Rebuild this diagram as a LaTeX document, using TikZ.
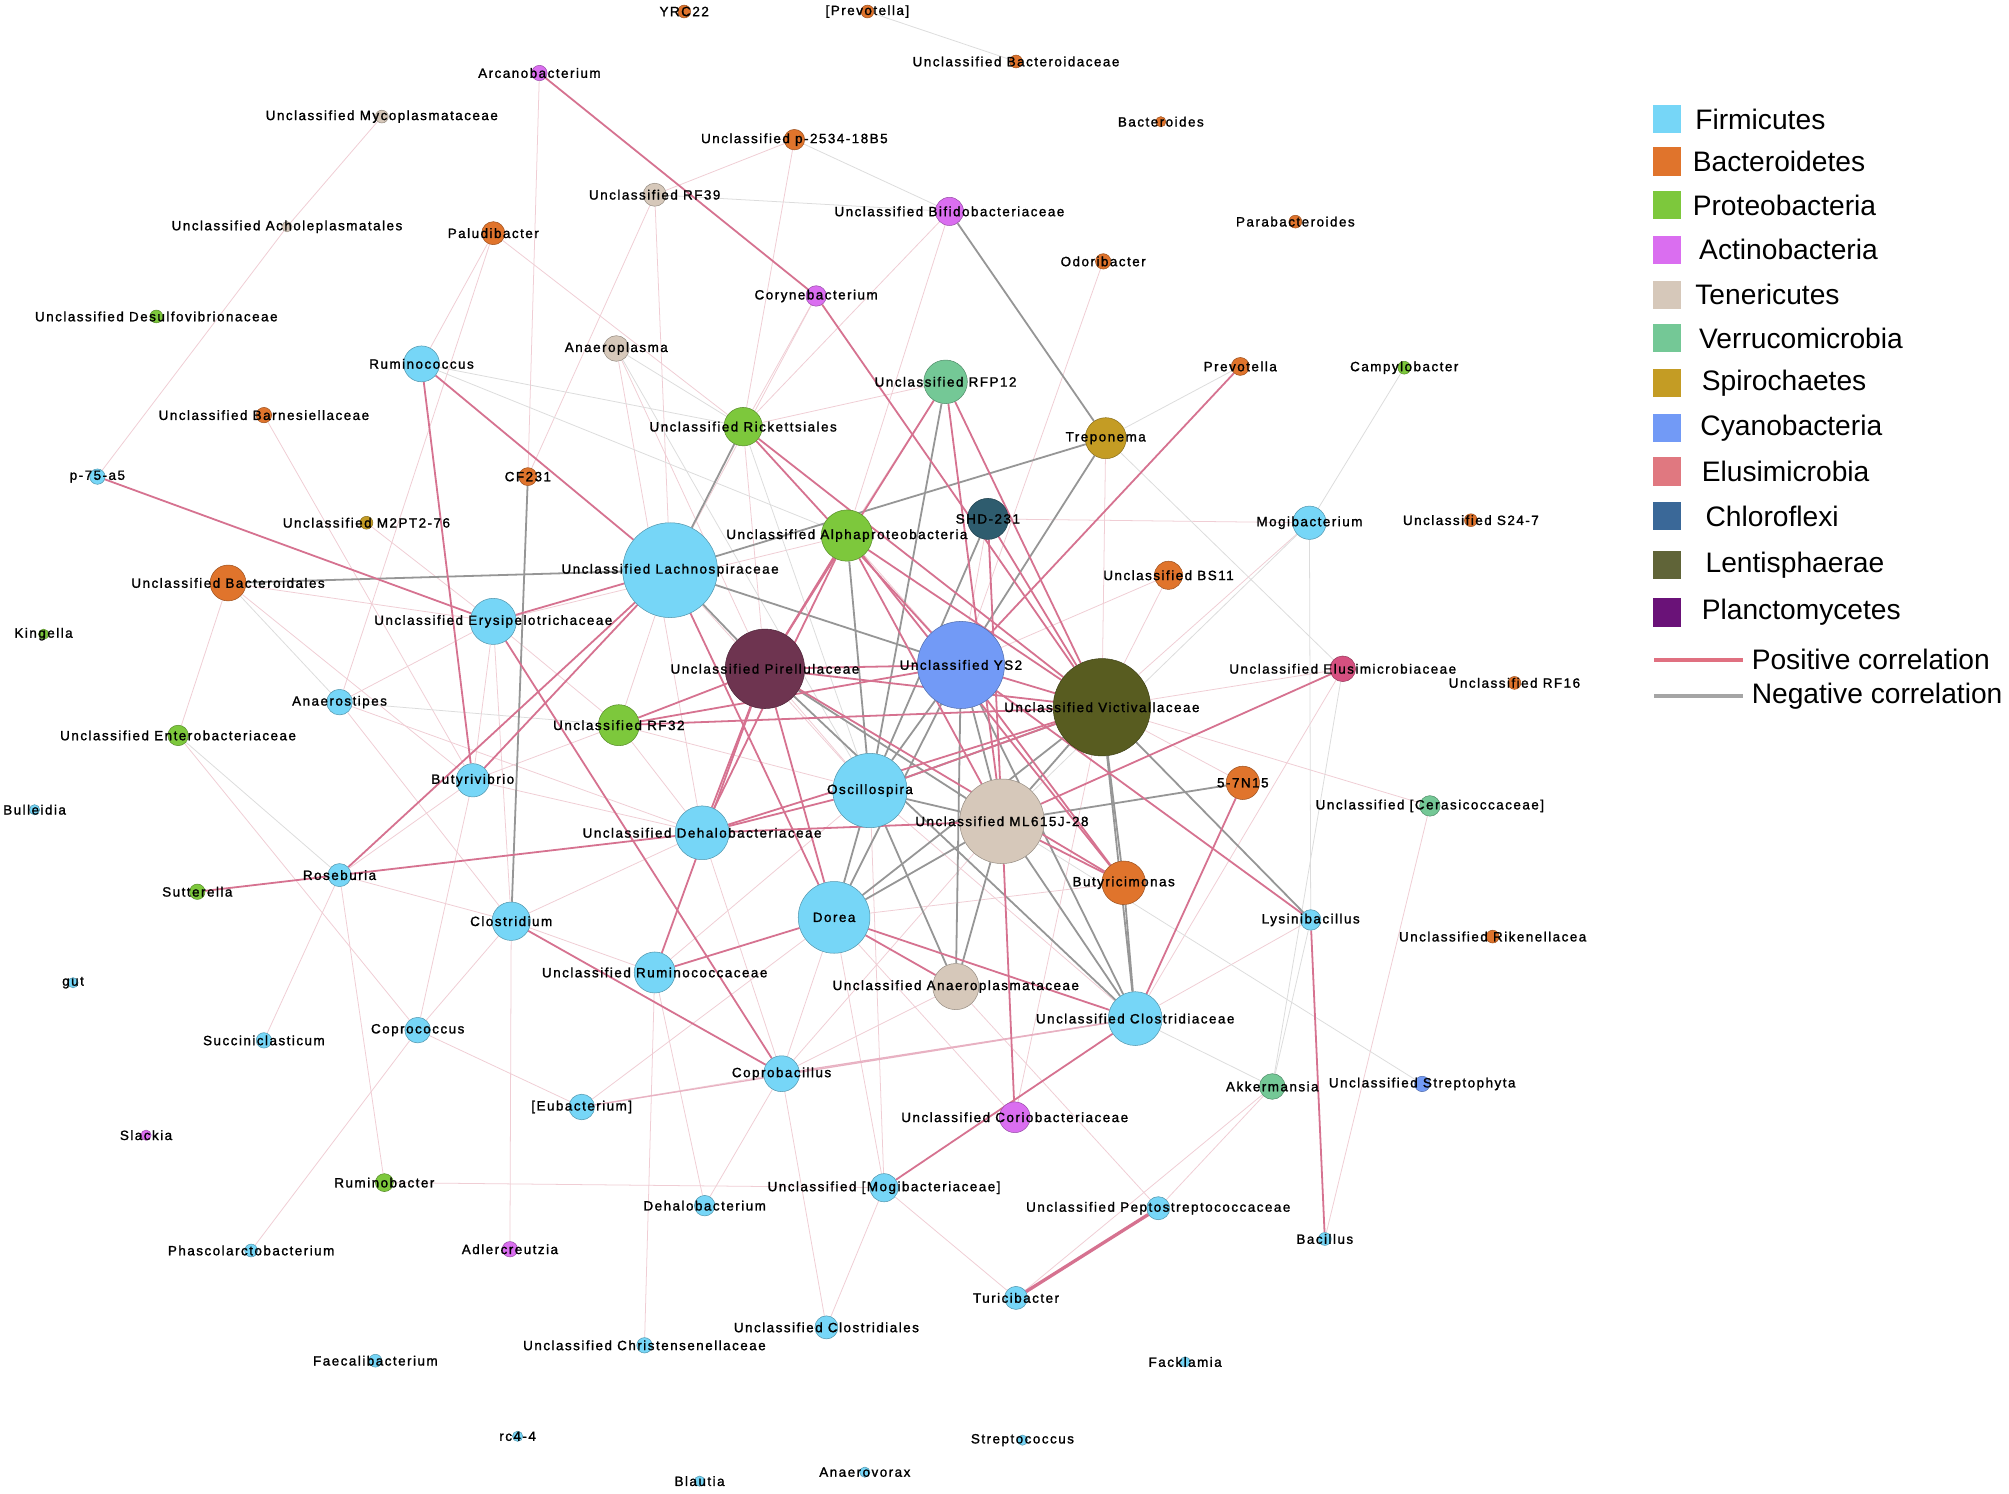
\documentclass[tikz,border=0pt]{standalone}
\usepackage{fontspec}
\setmainfont{Liberation Sans}
\newfontfamily\lblfont[LetterSpace=11,FakeBold=1.4]{Liberation Sans}
\pgfdeclarelayer{bg}
\pgfdeclarelayer{edges}
\pgfsetlayers{bg,edges,main}
\definecolor{firm}{RGB}{118,214,247}
\definecolor{bact}{RGB}{224,116,44}
\definecolor{prot}{RGB}{125,200,60}
\definecolor{actino}{RGB}{218,110,240}
\definecolor{tener}{RGB}{214,200,186}
\definecolor{verru}{RGB}{116,200,150}
\definecolor{spiro}{RGB}{196,156,36}
\definecolor{cyano}{RGB}{114,154,246}
\definecolor{elusc}{RGB}{214,80,128}
\definecolor{shdc}{RGB}{46,92,110}
\definecolor{victc}{RGB}{88,92,32}
\definecolor{pirc}{RGB}{110,52,80}
\definecolor{elusL}{RGB}{224,120,128}
\definecolor{chloroL}{RGB}{58,104,152}
\definecolor{lentiL}{RGB}{96,100,56}
\definecolor{plancL}{RGB}{106,18,120}
\definecolor{poscol}{RGB}{214,114,144}
\definecolor{negcol}{RGB}{150,150,150}
\definecolor{fposcol}{RGB}{240,205,212}
\definecolor{fnegcol}{RGB}{220,220,220}
\tikzset{
  bug/.style={circle, inner sep=0pt, line width=0.4pt},
  lbl/.style={font=\lblfont\fontsize{10.5}{12}\selectfont, inner sep=0pt, text=black},
  poscorr/.style={draw=poscol, line width=1.4pt},
  negcorr/.style={draw=negcol, line width=1.4pt},
  thickpos/.style={draw=poscol, line width=2.6pt},
  medpos/.style={draw=poscol!55, line width=1pt},
  fpos/.style={draw=fposcol, line width=0.6pt},
  fneg/.style={draw=fnegcol, line width=0.6pt},
  legsq/.style={minimum size=22pt, inner sep=0pt},
  legtxt/.style={font=\fontsize{22}{26}\selectfont, inner sep=0pt, anchor=west},
}
\def\nodelist{%
yrc/534/9/5/bact/YRC22,%
prevb/677/9/5/bact/[Prevotella],%
bacd/793/48/5/bact/Unclassified Bacteroidaceae,%
arca/421/57/6/actino/Arcanobacterium,%
myco/298/91/5/tener/Unclassified Mycoplasmataceae,%
p25/620/109/8/bact/Unclassified p-2534-18B5,%
bactds/906/95/4/bact/Bacteroides,%
rf39/511/152/9/tener/Unclassified RF39,%
bifi/741/165/11/actino/Unclassified Bifidobacteriaceae,%
achol/224/177/4/tener/Unclassified Acholeplasmatales,%
palu/385/182/9/bact/Paludibacter,%
parab/1011/173/5/bact/Parabacteroides,%
odori/861/204/6/bact/Odoribacter,%
coryn/637/231/8/actino/Corynebacterium,%
desulf/122/247/5/prot/Unclassified Desulfovibrionaceae,%
anplas/481/272/10/tener/Anaeroplasma,%
rumc/329/284/14/firm/Ruminococcus,%
rfp12/738/298/17/verru/Unclassified RFP12,%
prev/968/286/7/bact/Prevotella,%
campy/1096/287/5/prot/Campylobacter,%
barn/206/324/6/bact/Unclassified Barnesiellaceae,%
rick/580/333/15/prot/Unclassified Rickettsiales,%
trep/863/342/16/spiro/Treponema,%
p75/76/372/6/firm/p-75-a5,%
cf231/412/372/7/bact/CF231,%
m2pt/286/408/5/spiro/Unclassified M2PT2-76,%
shd/771/405/16/shdc/SHD-231,%
alpha/661/418/20/prot/Unclassified Alphaproteobacteria,%
mogib/1022/408/13/firm/Mogibacterium,%
s247/1148/406/5/bact/Unclassified S24-7,%
lach/523/445/37/firm/Unclassified Lachnospiraceae,%
bs11/912/449/11/bact/Unclassified BS11,%
bacdl/178/455/14/bact/Unclassified Bacteroidales,%
erys/385/485/18/firm/Unclassified Erysipelotrichaceae,%
king/34/495/4/prot/Kingella,%
pirel/597/522/31/pirc/Unclassified Pirellulaceae,%
ys2/750/519/34/cyano/Unclassified YS2,%
vict/860/552/38/victc/Unclassified Victivallaceae,%
elus/1048/522/10/elusc/Unclassified Elusimicrobiaceae,%
rf16/1182/533/5/bact/Unclassified RF16,%
anst/265/548/10/firm/Anaerostipes,%
rf32/483/566/16/prot/Unclassified RF32,%
entero/139/574/8/prot/Unclassified Enterobacteriaceae,%
butv/369/609/13/firm/Butyrivibrio,%
osci/679/617/29/firm/Oscillospira,%
n15/970/611/13/bact/5-7N15,%
bulle/27/632/4/firm/Bulleidia,%
ceras/1116/629/8/verru/Unclassified [Cerasicoccaceae],%
ml6/782/641/33/tener/Unclassified ML615J-28,%
dehal/548/650/21/firm/Unclassified Dehalobacteriaceae,%
rose/265/683/9/firm/Roseburia,%
sutt/154/696/6/prot/Sutterella,%
butm/877/689/17/bact/Butyricimonas,%
dorea/651/716/28/firm/Dorea,%
clost/399/719/15/firm/Clostridium,%
lysin/1023/718/8/firm/Lysinibacillus,%
riken/1165/731/5/bact/Unclassified Rikenellacea,%
gut/57/767/4/firm/gut,%
rumce/511/759/16/firm/Unclassified Ruminococcaceae,%
anplt/746/770/18/tener/Unclassified Anaeroplasmataceae,%
clstc/886/795/21/firm/Unclassified Clostridiaceae,%
copc/326/804/10/firm/Coprococcus,%
succ/206/812/6/firm/Succiniclasticum,%
copb/610/838/14/firm/Coprobacillus,%
akk/993/848/10/verru/Akkermansia,%
strph/1110/846/6/cyano/Unclassified Streptophyta,%
eub/454/864/10/firm/[Eubacterium],%
corio/792/872/12/actino/Unclassified Coriobacteriaceae,%
slack/114/886/4/actino/Slackia,%
rumb/300/923/7/prot/Ruminobacter,%
mogbc/690/927/11/firm/Unclassified [Mogibacteriaceae],%
dehbm/550/941/8/firm/Dehalobacterium,%
pepto/904/943/9/firm/Unclassified Peptostreptococcaceae,%
bacil/1034/967/5/firm/Bacillus,%
phasc/196/976/5/firm/Phascolarctobacterium,%
adler/398/975/6/actino/Adlercreutzia,%
turic/793/1013/9/firm/Turicibacter,%
clstl/645/1036/9/firm/Unclassified Clostridiales,%
chris/503/1050/6/firm/Unclassified Christensenellaceae,%
faec/293/1062/5/firm/Faecalibacterium,%
fackl/925/1063/4/firm/Facklamia,%
rc44/404/1121/4/firm/rc4-4,%
strep/798/1124/4/firm/Streptococcus,%
blaut/546/1156/4/firm/Blautia,%
anvor/675/1149/4/firm/Anaerovorax%
}
\begin{document}
\begin{tikzpicture}[x=1pt,y=-1pt]
\useasboundingbox (0,0) rectangle (1568,1166);
\begin{pgfonlayer}{bg}
\fill[white] (0,0) rectangle (1568,1166);
\end{pgfonlayer}
% circles
\foreach \n/\x/\y/\r/\c/\tx in \nodelist {
  \node[bug, minimum size={2*\r pt}, fill=\c, draw=\c!70!black] (\n) at (\x,\y) {};
}
% labels
\foreach \n/\x/\y/\r/\c/\tx in \nodelist {
  \node[lbl] (\n-t) at (\n) {\tx};
}
\begin{pgfonlayer}{edges}
% faint positive
\foreach \a/\b in {myco/achol, achol/p75, arca/cf231, palu/rumc, palu/anst, palu/rick, rf39/p25, rf39/cf231, rf39/lach, p25/rick, coryn/rick, coryn/lach, bifi/rick, bifi/alpha, odori/ys2, trep/vict, mogib/shd, mogib/vict, elus/clstc, elus/vict, ceras/vict, ceras/bacil, akk/turic, akk/pepto, lysin/clstc, bacdl/erys, bacdl/butv, barn/butv, entero/copc, entero/bacdl, anst/clost, copc/clost, copc/eub, copc/butv, copc/phasc, succ/rose, rumb/rose, rumb/mogbc, adler/clost, chris/rumce, dehbm/copb, dehbm/rumce, clstl/mogbc, clstl/copb, turic/mogbc, pepto/anplt, eub/copb, eub/dorea, mogbc/dorea, mogbc/osci, butv/erys, butv/rf32, butv/dehal, clost/dehal, clost/erys, rf32/dehal, rf32/osci, m2pt/erys, rick/pirel, anplas/pirel, anplas/dehal, rfp12/alpha, rfp12/rick, bs11/ys2, bs11/vict, n15/vict, butm/dorea, anplt/copb, corio/dorea, corio/vict, clstc/osci, copb/ml6, dehal/copb, rumce/osci, rose/butv, rose/clost, anst/dehal, erys/alpha, erys/rf32, lach/rf32, lach/osci, pirel/osci, alpha/ys2, shd/ys2, dorea/copb, rumce/clost, anst/erys}
  \draw[fpos] (\a) -- (\b);
% faint negative
\foreach \a/\b in {prevb/bacd, rf39/bifi, p25/bifi, rumc/rick, rumc/alpha, anplas/rick, campy/mogib, strph/ml6, prev/trep, trep/elus, mogib/lysin, mogib/ml6, elus/akk, akk/clstc, akk/lysin, anplas/osci, rick/osci, bacdl/anst, anst/rf32, rose/entero}
  \draw[fneg] (\a) -- (\b);
% medium positive
\foreach \a/\b in {clstc/copb, eub/clstc}
  \draw[medpos] (\a) -- (\b);
% strong negative
\foreach \a/\b in {bacdl/lach, bifi/trep, cf231/clost, rick/lach, trep/lach, trep/ys2, rfp12/osci, lach/pirel, lach/ys2, pirel/ml6, ys2/ml6, ys2/dorea, ys2/osci, ys2/clstc, ys2/anplt, vict/ml6, vict/osci, vict/lysin, vict/butm, vict/clstc, vict/dorea, ml6/n15, ml6/clstc, ml6/dorea, ml6/anplt, ml6/osci, butm/clstc, alpha/osci, osci/dorea, osci/anplt, pirel/clstc, shd/osci}
  \draw[negcorr] (\a) -- (\b);
% strong positive
\foreach \a/\b in {arca/coryn, coryn/vict, p75/erys, rumc/butv, rumc/lach, rose/sutt, rose/dehal, rose/lach, butv/lach, erys/copb, clost/copb, rumce/dorea, dorea/clstc, mogbc/clstc, corio/ml6, lysin/bacil, clstc/n15, elus/ml6, prev/ys2, rfp12/pirel, rfp12/vict, rfp12/ml6, rick/ys2, rick/vict, alpha/pirel, alpha/dehal, alpha/vict, alpha/ml6, alpha/butm, pirel/rf32, pirel/ys2, pirel/vict, pirel/dehal, pirel/butm, pirel/dorea, rf32/vict, rf32/ys2, dehal/ml6, dehal/osci, dehal/vict, lach/dorea, osci/vict, shd/vict, shd/ml6, ys2/vict, ys2/butm, ys2/lysin, butm/ml6, dorea/anplt, rumce/pirel, erys/lach}
  \draw[poscorr] (\a) -- (\b);
\draw[thickpos] (pepto) -- (turic);
\end{pgfonlayer}
% legend
\foreach \i/\c/\y/\tx/\xx in {1/firm/93/Firmicutes/1323, 2/bact/126/Bacteroidetes/1321, 3/prot/160/Proteobacteria/1321, 4/actino/195/Actinobacteria/1326, 5/tener/230/Tenericutes/1323, 6/verru/264/Verrucomicrobia/1326, 7/spiro/299/Spirochaetes/1328, 8/cyano/334/Cyanobacteria/1327, 9/elusL/368/Elusimicrobia/1328, 10/chloroL/403/Chloroflexi/1331, 11/lentiL/441/Lentisphaerae/1331, 12/plancL/478/Planctomycetes/1328} {
  \node[legsq, fill=\c] (sq\i) at (1301,\y) {};
  \node[legtxt] (lt\i) at (\xx,\y) {\tx};
}
\coordinate (pa) at (1291,515);
\coordinate (pb) at (1360,515);
\coordinate (na) at (1291,543);
\coordinate (nb) at (1360,543);
\draw[draw={rgb,255:red,224;green,112;blue,128}, line width=3pt] (pa) -- (pb);
\draw[draw={rgb,255:red,165;green,165;blue,165}, line width=3pt] (na) -- (nb);
\node[legtxt] (ptxt) at (1367,515) {Positive correlation};
\node[legtxt] (ntxt) at (1367,543) {Negative correlation};
\end{tikzpicture}
\end{document}
